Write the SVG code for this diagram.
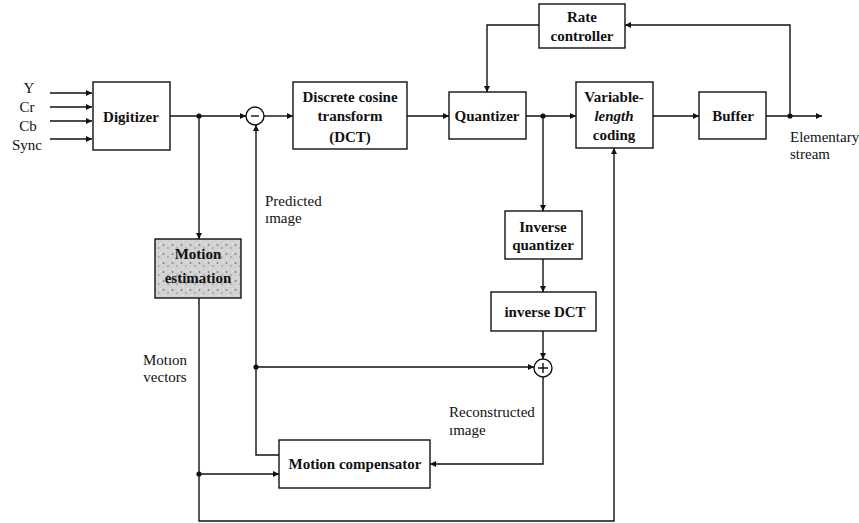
<svg xmlns="http://www.w3.org/2000/svg" width="859" height="523" viewBox="0 0 859 523">
<style>
.box{fill:#fff;stroke:#111;stroke-width:1.4}
.lbl{font-family:'Liberation Serif','Times New Roman','DejaVu Serif',serif;font-weight:bold;font-size:15px;fill:#111;text-anchor:middle}
.ann{font-family:'Liberation Serif','Times New Roman','DejaVu Serif',serif;font-size:15px;fill:#111}
.ln{fill:none;stroke:#111;stroke-width:1.4}
.arr{fill:none;stroke:#111;stroke-width:1.4;marker-end:url(#ah)}
.dot{fill:#111}
</style>
<defs>
<marker id="ah" viewBox="0 0 10 10" refX="10" refY="5" markerWidth="9" markerHeight="6" markerUnits="userSpaceOnUse" orient="auto">
<path d="M0,0 L10,5 L0,10 z" fill="#111"/>
</marker>
<pattern id="stip" width="9" height="9" patternUnits="userSpaceOnUse">
<rect width="9" height="9" fill="#d2d2d2"/>
<circle cx="1.5" cy="2" r="0.8" fill="#555"/>
<circle cx="6" cy="5" r="0.7" fill="#777"/>
<circle cx="3" cy="7.5" r="0.6" fill="#fff"/>
<circle cx="7.5" cy="1" r="0.6" fill="#fff"/>
</pattern>
</defs>

<g id="connectors">
<path class="arr" d="M50,93 H92"/>
<path class="arr" d="M50,107 H92"/>
<path class="arr" d="M50,121 H92"/>
<path class="arr" d="M50,139 H92"/>
<path class="arr" d="M170,116 H246"/>
<path class="arr" d="M199,116 V239"/>
<path class="arr" d="M264,116 H293"/>
<path class="arr" d="M407,116 H449"/>
<path class="arr" d="M526,116 H576"/>
<path class="arr" d="M543,116 V211"/>
<path class="arr" d="M543,259 V292"/>
<path class="arr" d="M543,331 V359"/>
<path class="arr" d="M256,367 H534"/>
<path class="arr" d="M543,377 V464 H430"/>
<path class="arr" d="M279,455 H256 V125"/>
<path class="arr" d="M199,298 V521 H614 V148"/>
<path class="arr" d="M199,474 H279"/>
<path class="arr" d="M653,116 H699"/>
<path class="arr" d="M766,116 H822"/>
<path class="arr" d="M790,116 V25 H625"/>
<path class="arr" d="M539,25 H487 V92"/>
<circle class="dot" cx="199" cy="116" r="2.6"/>
<circle class="dot" cx="543" cy="116" r="2.6"/>
<circle class="dot" cx="790" cy="116" r="2.6"/>
<circle class="dot" cx="256" cy="367" r="2.6"/>
<circle class="dot" cx="199" cy="474" r="2.6"/>
</g>

<g id="inputs">
<text class="ann" x="29" y="93" text-anchor="middle">Y</text>
<text class="ann" x="27" y="112" text-anchor="middle">Cr</text>
<text class="ann" x="28" y="131" text-anchor="middle">Cb</text>
<text class="ann" x="27" y="150" text-anchor="middle">Sync</text>
</g>

<g id="digitizer">
<rect class="box" x="93" y="82" width="77" height="68"/>
<text class="lbl" x="131" y="122">Digitizer</text>
</g>

<g id="subtract">
<circle class="box" cx="255" cy="116" r="9"/>
<path class="ln" d="M251,116 H259"/>
</g>

<g id="dct">
<rect class="box" x="293" y="82" width="114" height="67"/>
<text class="lbl" x="350" y="102">Discrete cosine</text>
<text class="lbl" x="350" y="121">transform</text>
<text class="lbl" x="350" y="142">(DCT)</text>
</g>

<g id="quantizer">
<rect class="box" x="449" y="92" width="77" height="47"/>
<text class="lbl" x="487" y="121">Quantizer</text>
</g>

<g id="rate-controller">
<rect class="box" x="539" y="4" width="86" height="44"/>
<text class="lbl" x="582" y="22">Rate</text>
<text class="lbl" x="582" y="41">controller</text>
</g>

<g id="vlc">
<rect class="box" x="576" y="82" width="77" height="66"/>
<text class="lbl" x="614" y="102">Variable-</text>
<text class="lbl" x="614" y="121" font-style="italic">length</text>
<text class="lbl" x="614" y="140">coding</text>
</g>

<g id="buffer">
<rect class="box" x="699" y="92" width="67" height="47"/>
<text class="lbl" x="733" y="121">Buffer</text>
</g>

<g id="output">
<text class="ann" x="790" y="142">Elementary</text>
<text class="ann" x="790" y="159">stream</text>
</g>

<g id="motion-estimation">
<rect class="box" x="155" y="239" width="86" height="59" style="fill:url(#stip)"/>
<text class="lbl" x="198" y="259">Motion</text>
<text class="lbl" x="198" y="283">estimation</text>
</g>

<g id="inverse-quantizer">
<rect class="box" x="505" y="211" width="77" height="48"/>
<text class="lbl" x="543" y="232">Inverse</text>
<text class="lbl" x="543" y="250">quantizer</text>
</g>

<g id="inverse-dct">
<rect class="box" x="491" y="292" width="105" height="39"/>
<text class="lbl" x="545" y="317">inverse DCT</text>
</g>

<g id="add">
<circle class="box" cx="543" cy="368" r="9"/>
<path class="ln" d="M538,368 H548 M543,363 V373"/>
</g>

<g id="motion-compensator">
<rect class="box" x="279" y="440" width="151" height="48"/>
<text class="lbl" x="355" y="469">Motion compensator</text>
</g>

<g id="annotations">
<text class="ann" x="265" y="206">Predicted</text>
<text class="ann" x="265" y="223">ımage</text>
<text class="ann" x="165" y="365" text-anchor="middle">Motıon</text>
<text class="ann" x="165" y="382" text-anchor="middle">vectors</text>
<text class="ann" x="449" y="417">Reconstructed</text>
<text class="ann" x="449" y="435">ımage</text>
</g>
</svg>
